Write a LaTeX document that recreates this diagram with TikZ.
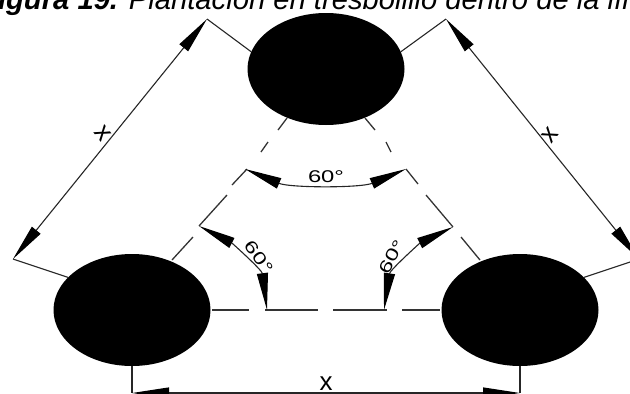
\documentclass[tikz,border=0pt]{standalone}
\usepackage{fontspec}
\setmainfont{Liberation Sans}
\usetikzlibrary{arrows.meta, shapes.geometric}
\tikzset{>={Triangle[length=37pt,width=11pt,color=black]}}
\tikzset{tree/.style={draw = none, fill = black, ellipse, minimum width = 157pt, minimum height = 112pt, inner sep = 0pt}}
\tikzset{center line/.style={draw = black!80, line width = 1.3pt}}
\tikzset{dim line/.style={draw = black!85, line width = 1.1pt}}
\tikzset{dim label/.style={font = \fontsize{26}{26}\selectfont, inner sep = 0pt}}
\tikzset{angle label/.style={font = \fontsize{17}{17}\selectfont, inner sep = 0pt}}
\newcommand{\wide}[1]{\scalebox{1.4}[1]{#1}}

\begin{document}
\begin{tikzpicture}[x=1pt, y=-1pt]
\useasboundingbox (0, 0) rectangle (630, 394);
\clip (0, 0) rectangle (630, 394);
\node[anchor = base west, inner sep = 0pt, font = \fontsize{29.2}{29.2}\selectfont\itshape] (title) at (-20, 9) {\textbf{Figura 19.} Plantación en tresbolillo dentro de la línea};

\node[tree] (top) at (326, 69) {};
\node[tree] (left) at (132, 310) {};
\node[tree] (right) at (520, 310) {};

% corners of the dimension lines
\coordinate (ctl) at (207, 19);
\coordinate (ctr) at (446, 19);
\coordinate (cl) at (13, 259);
\coordinate (cr) at (639, 259);
\coordinate (cbl) at (132, 393);
\coordinate (cbr) at (520, 393);

\draw[dim line] (top.167) -- (ctl);
\draw[dim line] (top.13) -- (ctr);
\draw[dim line] (left.153) -- (cl);
\draw[dim line] (right.27) -- (cr);
\draw[dim line] (left.south) -- (cbl);
\draw[dim line] (right.south) -- (cbr);
\draw[dim line, <->] (ctl) -- (cl);
\draw[dim line, <->] (ctr) -- (cr);
\draw[dim line, <->] (cbl) -- (cbr);
\node[dim label, rotate = -52] (xl) at (103, 133) {x};
\node[dim label, rotate = 52] (xr) at (550, 135) {x};
\node[dim label] (xb) at (326, 384) {x};

% dashes between the trees
\draw[center line] (287, 118) -- (278, 130) (268, 142) -- (261, 152) (247, 169) -- (232, 185) (227, 195) -- (199, 226) (193, 237) -- (172, 260);
\draw[center line] (365, 118) -- (375, 130) (386, 142) -- (391, 152) (406, 169) -- (418, 184) (426, 195) -- (453, 227) (461, 237) -- (480, 260);
\draw[center line] (212, 310) -- (249, 310) (265, 310) -- (318, 310) (333, 310) -- (387, 310) (402, 310) -- (440, 310);

% angles
\coordinate (atl) at (245, 169);
\coordinate (atr) at (406, 169);
\coordinate (all) at (199, 226);
\coordinate (alb) at (267, 310);
\coordinate (arr) at (453, 227);
\coordinate (arb) at (384, 310);
\draw[dim line, <->] (atl) .. controls (290, 188) and (361, 188) .. (atr);
\draw[dim line, <->] (all) .. controls (232, 243) and (262, 270) .. (alb);
\draw[dim line, <->] (arr) .. controls (420, 243) and (390, 270) .. (arb);
\node[angle label] (at) at (326, 177) {\wide{60°}};
\node[angle label, rotate = -55] (al) at (259, 257) {\wide{60°}};
\node[angle label, rotate = 62] (ar) at (392, 257) {\wide{60°}};
\end{tikzpicture}
\end{document}
